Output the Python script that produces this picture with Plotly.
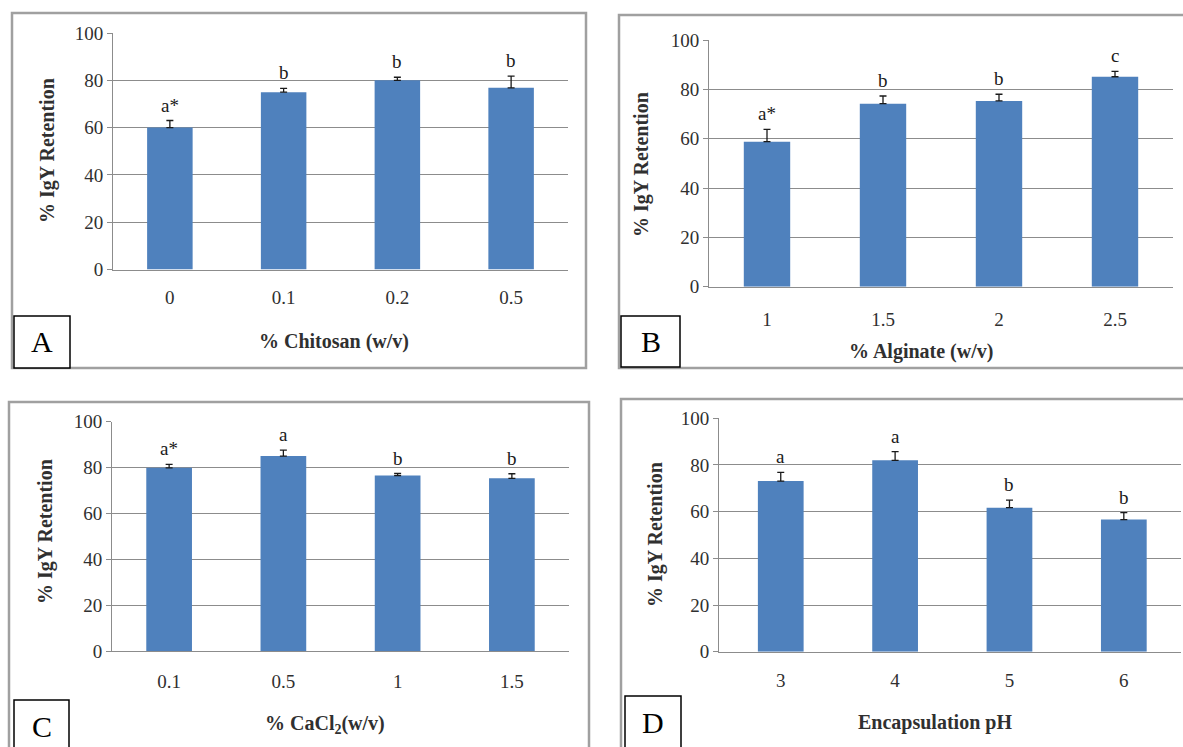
import plotly.graph_objects as go

W, H = 1183, 747

# ---- data ----
chitosan_cats = ["0", "0.1", "0.2", "0.5"]
chitosan_vals = [60, 75, 80, 76.8]
chitosan_err = [3.0, 1.6, 1.3, 5.0]
chitosan_sig = ["a*", "b", "b", "b"]

alginate_cats = ["1", "1.5", "2", "2.5"]
alginate_vals = [58.8, 74.2, 75.3, 85.1]
alginate_err = [5.0, 3.1, 2.7, 2.2]
alginate_sig = ["a*", "b", "b", "c"]

cacl2_cats = ["0.1", "0.5", "1", "1.5"]
cacl2_vals = [79.9, 85.0, 76.5, 75.3]
cacl2_err = [1.5, 2.6, 0.9, 2.0]
cacl2_sig = ["a*", "a", "b", "b"]

ph_cats = ["3", "4", "5", "6"]
ph_vals = [73.1, 82.0, 61.7, 56.6]
ph_err = [3.7, 3.7, 3.2, 3.0]
ph_sig = ["a", "a", "b", "b"]

y_ticks = [0, 20, 40, 60, 80, 100]

BAR = "#4F81BD"
GRID = "#8C8C8C"
FONT = "Liberation Serif"
TXT = "#303030"

def px(x):
    return x / W

def py(y):
    return 1 - y / H

panels = [
    dict(cats=chitosan_cats, vals=chitosan_vals, err=chitosan_err, sig=chitosan_sig,
         xd=(113, 568), yd=(269.5, 33), xr=[-0.5, 3.5], xt="% Chitosan (w/v)", xtp=(334, 341),
         ytp=(48, 151), letter="A", border=(12, 13, 586, 368), lbox=(14, 316, 70, 368), tl=11),
    dict(cats=alginate_cats, vals=alginate_vals, err=alginate_err, sig=alginate_sig,
         xd=(709, 1173), yd=(286.7, 40), xr=[-0.5, 3.5], xt="% Alginate (w/v)", xtp=(921, 351),
         ytp=(642, 165), letter="B", border=(619, 15, 1200, 368), lbox=(621, 316, 680, 367), tl=15),
    dict(cats=cacl2_cats, vals=cacl2_vals, err=cacl2_err, sig=cacl2_sig,
         xd=(112, 569), yd=(651, 421.7), xr=[-0.5, 3.5], xt="% CaCl<sub>2</sub>(w/v)", xtp=(325, 724),
         ytp=(45, 532), letter="C", border=(9, 402, 589, 760), lbox=(14, 700, 69, 760), tl=13),
    dict(cats=ph_cats, vals=ph_vals, err=ph_err, sig=ph_sig,
         xd=(719, 1181), yd=(651.7, 418.3), xr=[-0.54, 3.5], xt="Encapsulation pH", xtp=(935, 722),
         ytp=(655, 535), letter="D", border=(621, 399, 1200, 760), lbox=(625, 696, 681, 760), tl=11),
]

fig = go.Figure()
shapes = []
annotations = []
layout = {}

for i, p in enumerate(panels):
    n = "" if i == 0 else str(i + 1)
    xa, ya = "x" + n, "y" + n
    bx0, by0, bx1, by1 = p["border"]
    shapes.append(dict(type="rect", xref="paper", yref="paper",
                       x0=px(bx0), x1=px(bx1), y0=py(by1), y1=py(by0),
                       line=dict(color="#A0A0A0", width=2.5), fillcolor="rgba(0,0,0,0)", layer="below"))
    fig.add_trace(go.Bar(
        x=p["cats"], y=p["vals"], xaxis=xa, yaxis=ya,
        marker=dict(color=BAR, line=dict(width=0)),
        error_y=dict(type="data", array=p["err"], arrayminus=[0] * 4, symmetric=False,
                     color="#1a1a1a", thickness=1.3, width=3.5),
        showlegend=False, hoverinfo="skip",
    ))
    layout["xaxis" + n] = dict(
        domain=[px(p["xd"][0]), px(p["xd"][1])], anchor=ya, type="category",
        categoryorder="array", categoryarray=p["cats"], automargin=False,
        range=p["xr"], showgrid=False, showline=True, linecolor=GRID, linewidth=1,
        ticks="outside", ticklen=p["tl"], tickcolor="rgba(0,0,0,0)",
        tickfont=dict(family=FONT, size=19, color=TXT), zeroline=False,
    )
    layout["yaxis" + n] = dict(
        domain=[py(p["yd"][0]), py(p["yd"][1])], anchor=xa, range=[0, 100], automargin=False,
        tickvals=y_ticks, showgrid=True, gridcolor=GRID, gridwidth=1,
        showline=True, linecolor=GRID, linewidth=1, ticks="outside", ticklen=5,
        tickcolor=GRID, tickfont=dict(family=FONT, size=19, color=TXT), zeroline=False,
    )
    for j, (v, e, s) in enumerate(zip(p["vals"], p["err"], p["sig"])):
        annotations.append(dict(x=j, y=v + e, xref=xa, yref=ya, text=s, showarrow=False,
                                yanchor="bottom", yshift=3,
                                font=dict(family=FONT, size=19, color="#1a1a1a")))
    annotations.append(dict(x=px(p["xtp"][0]), y=py(p["xtp"][1]), xref="paper", yref="paper",
                            text="<b>" + p["xt"] + "</b>", showarrow=False,
                            xanchor="center", yanchor="middle",
                            font=dict(family=FONT, size=20, color=TXT)))
    annotations.append(dict(x=px(p["ytp"][0]), y=py(p["ytp"][1]), xref="paper", yref="paper",
                            text="<b>% IgY Retention</b>", showarrow=False, textangle=-90,
                            xanchor="center", yanchor="middle",
                            font=dict(family=FONT, size=20, color=TXT)))
    lx0, ly0, lx1, ly1 = p["lbox"]
    shapes.append(dict(type="rect", xref="paper", yref="paper",
                       x0=px(lx0), x1=px(lx1), y0=py(ly1), y1=py(ly0),
                       line=dict(color="#000000", width=1.5), fillcolor="white", layer="above"))
    annotations.append(dict(x=px((lx0 + lx1) / 2), y=py(ly0 + 26), xref="paper", yref="paper",
                            text=p["letter"], showarrow=False, xanchor="center", yanchor="middle",
                            font=dict(family=FONT, size=30, color="#000000")))

fig.update_layout(
    width=W, height=H, margin=dict(l=0, r=0, t=0, b=0, pad=0, autoexpand=False),
    paper_bgcolor="white", plot_bgcolor="white",
    shapes=shapes, annotations=annotations, bargap=0.6, **layout,
)

fig.write_html("out.html", config={"displayModeBar": False},
               post_script="document.body.style.margin='0';document.body.style.overflow='hidden';")
